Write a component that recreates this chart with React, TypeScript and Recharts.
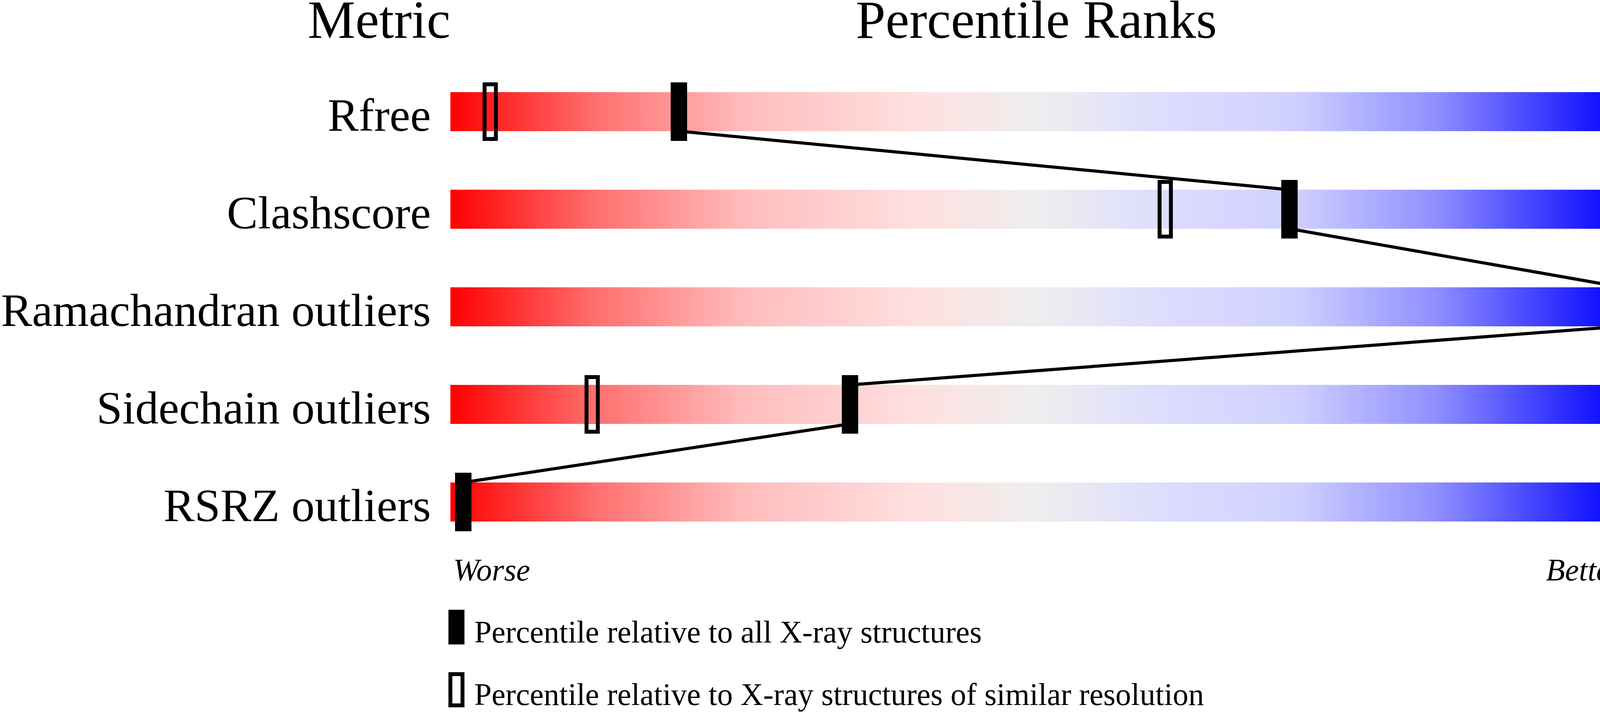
import { ComposedChart, Bar, Scatter, XAxis, YAxis } from 'recharts';

const metrics = ['Rfree', 'Clashscore', 'Ramachandran outliers', 'Sidechain outliers', 'RSRZ outliers'];
const values = ['0.269', '3', '0', '3.2%', '27.6%'];
const allPercentiles = [19.5, 71.6, 100, 34.1, 1.1];
const similarPercentiles: (number | null)[] = [3.4, 61, null, 12.1, null];

const legendItems = [
  { kind: 'filled', text: 'Percentile relative to all X-ray structures' },
  { kind: 'open', text: 'Percentile relative to X-ray structures of similar resolution' },
];

const rows = metrics.map((metric, i) => ({
  metric,
  value: values[i],
  full: 100,
  allPct: allPercentiles[i],
  simPct: similarPercentiles[i],
}));

const W = 4506;
const H = 1824;
const LEFT = 1153;
const RIGHT = 4153;
const BAR = 100;
const SERIF = '"Liberation Serif", "Times New Roman", serif';

const FilledMarker = (props: any) => {
  const { cx, cy } = props;
  if (cx == null || cy == null) return <g />;
  return <rect x={cx - 21} y={cy - 75} width={42} height={150} fill="#000" />;
};

const OpenMarker = (props: any) => {
  const { cx, cy, payload } = props;
  if (cx == null || cy == null || payload?.simPct == null) return <g />;
  return <rect x={cx - 14.5} y={cy - 70} width={29} height={140} fill="none" stroke="#000" strokeWidth={10} />;
};

// bottom of one slider to the top of the next
const ConnectorLine = (props: any) => {
  const pts = props.points || [];
  let d = '';
  for (let i = 0; i < pts.length - 1; i++) {
    d += `M${pts[i].x},${pts[i].y + BAR / 2} L${pts[i + 1].x},${pts[i + 1].y - BAR / 2} `;
  }
  return <path d={d} fill="none" stroke="#000" strokeWidth={8} />;
};

const MetricTick = ({ x, y, payload }: any) => (
  <text x={x} y={y + 49} textAnchor="end" fontFamily={SERIF} fontSize={119} fill="#000">
    {payload.value}
  </text>
);

const ValueTick = ({ x, y, payload }: any) => (
  <text x={x} y={y + 49} textAnchor="start" fontFamily={SERIF} fontSize={117} fill="#000">
    {payload.value}
  </text>
);

export default function App() {
  return (
    <div style={{ position: 'absolute', left: 0, top: 0, width: W, height: H, background: '#fff' }}>
      <ComposedChart
        width={W}
        height={H}
        data={rows}
        layout="vertical"
        margin={{ top: 161, right: 0, bottom: 413, left: 0 }}
      >
        <defs>
          <linearGradient id="slider" x1="0" y1="0" x2="1" y2="0">
            <stop offset="0" stopColor="#ff0000" />
            <stop offset="0.125" stopColor="#ff7070" />
            <stop offset="0.25" stopColor="#ffbcbc" />
            <stop offset="0.4" stopColor="#ffe0e0" />
            <stop offset="0.5" stopColor="#eeeeee" />
            <stop offset="0.61" stopColor="#dcdcff" />
            <stop offset="0.72" stopColor="#d0d0ff" />
            <stop offset="0.84" stopColor="#9090ff" />
            <stop offset="1" stopColor="#0000ff" />
          </linearGradient>
        </defs>
        <XAxis type="number" domain={[0, 100]} hide />
        <YAxis
          yAxisId="metric"
          type="category"
          dataKey="metric"
          width={LEFT}
          axisLine={false}
          tickLine={false}
          tickSize={0}
          tickMargin={50}
          interval={0}
          allowDuplicatedCategory={false}
          tick={<MetricTick />}
        />
        <YAxis
          yAxisId="value"
          orientation="right"
          type="category"
          dataKey="value"
          width={W - RIGHT}
          axisLine={false}
          tickLine={false}
          tickSize={0}
          tickMargin={51}
          interval={0}
          allowDuplicatedCategory={false}
          tick={<ValueTick />}
        />
        <Bar yAxisId="metric" dataKey="full" barSize={BAR} fill="url(#slider)" isAnimationActive={false} />
        <Scatter yAxisId="metric" dataKey="simPct" shape={OpenMarker} isAnimationActive={false} />
        <Scatter
          yAxisId="metric"
          dataKey="allPct"
          shape={FilledMarker}
          line={ConnectorLine}
          isAnimationActive={false}
        />

        <text x={LEFT} y={97} textAnchor="end" fontFamily={SERIF} fontSize={137}>Metric</text>
        <text x={(LEFT + RIGHT) / 2} y={97} textAnchor="middle" fontFamily={SERIF} fontSize={137}>Percentile Ranks</text>
        <text x={RIGHT} y={97} textAnchor="start" fontFamily={SERIF} fontSize={137}>Value</text>

        <text x={LEFT + 7} y={1487} fontFamily={SERIF} fontStyle="italic" fontSize={80}>Worse</text>
        <text x={RIGHT} y={1487} textAnchor="end" fontFamily={SERIF} fontStyle="italic" fontSize={80}>Better</text>

        {legendItems.map((item, i) => {
          const top = 1562 + i * 160;
          return (
            <g key={item.text}>
              {item.kind === 'filled' ? (
                <rect x={1148} y={top} width={41} height={89} fill="#000" />
              ) : (
                <rect x={1153} y={top + 5} width={31} height={80} fill="none" stroke="#000" strokeWidth={10} />
              )}
              <text x={1214} y={top + 84} fontFamily={SERIF} fontSize={80}>{item.text}</text>
            </g>
          );
        })}
      </ComposedChart>
    </div>
  );
}
